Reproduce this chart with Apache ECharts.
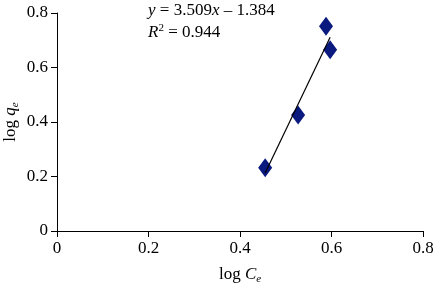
<!DOCTYPE html>
<html>
<head>
<meta charset="utf-8">
<script src="https://cdn.jsdelivr.net/npm/echarts@6/dist/echarts.min.js"></script>
<style>html,body{margin:0;padding:0;background:#fff;}#c{width:434px;height:284px;}</style>
</head>
<body>
<div id="c"></div>
<script>
var logCe = [0.455, 0.527, 0.588, 0.597];
var logQe = [0.232, 0.426, 0.751, 0.665];
var slope = 3.509;
var intercept = -1.384;
var xTicks = [0, 0.2, 0.4, 0.6, 0.8];
var yTicks = [0, 0.2, 0.4, 0.6, 0.8];

var pts = logCe.map(function(x, i){ return [x, logQe[i]]; });
var xMin = Math.min.apply(null, logCe), xMax = Math.max.apply(null, logCe);
var fit = [[xMin, slope * xMin + intercept], [xMax, slope * xMax + intercept]];

var FONT = '"Liberation Serif", "DejaVu Serif", serif';
var FS = 17;
var chart = echarts.init(document.getElementById('c'), null, {renderer: 'canvas'});
chart.setOption({
  animation: false,
  backgroundColor: '#fff',
  grid: {left: 57, right: 11, top: 13, bottom: 53, containLabel: false, outerBoundsMode: 'none'},
  xAxis: {
    type: 'value', min: 0, max: 0.8, interval: 0.2,
    name: '{n|log }{i|C}{sub|e}', nameLocation: 'middle', nameGap: 33,
    nameTextStyle: {
      rich: {
        n: {fontFamily: FONT, fontSize: FS, color: '#000'},
        i: {fontFamily: FONT, fontSize: FS, fontStyle: 'italic', color: '#000'},
        sub: {fontFamily: FONT, fontSize: 11, fontStyle: 'italic', color: '#000', padding: [10, 0, 0, 0]}
      }
    },
    axisLine: {onZero: false, lineStyle: {color: '#000', width: 1}},
    axisTick: {show: true, inside: false, length: 6, lineStyle: {color: '#000'}},
    axisLabel: {fontFamily: FONT, fontSize: FS, color: '#000', margin: 9,
      formatter: function(v){ return xTicks.indexOf(+v.toFixed(1)) >= 0 ? (v === 0 ? '0' : v.toFixed(1)) : ''; }},
    splitLine: {show: false}
  },
  yAxis: {
    type: 'value', min: 0, max: 0.8, interval: 0.2,
    name: '{n|log }{i|q}{sub|e}', nameLocation: 'middle', nameGap: 36, nameRotate: 90,
    nameMoveOverlap: false,
    nameTextStyle: {
      rich: {
        n: {fontFamily: FONT, fontSize: FS, color: '#000'},
        i: {fontFamily: FONT, fontSize: FS, fontStyle: 'italic', color: '#000'},
        sub: {fontFamily: FONT, fontSize: 11, fontStyle: 'italic', color: '#000', padding: [10, 0, 0, 0]}
      }
    },
    axisLine: {show: true, onZero: false, lineStyle: {color: '#000', width: 1}},
    axisTick: {show: true, inside: false, length: 6, lineStyle: {color: '#000'}},
    axisLabel: {fontFamily: FONT, fontSize: FS, color: '#000', margin: 9,
      formatter: function(v){ return yTicks.indexOf(+v.toFixed(1)) >= 0 ? (v === 0 ? '0' : v.toFixed(1)) : ''; }},
    splitLine: {show: false}
  },
  series: [
    {
      type: 'scatter', data: pts, symbol: 'diamond', symbolSize: [14, 19],
      itemStyle: {color: '#0b1a7e', opacity: 1}, z: 2
    },
    {
      type: 'line', data: fit, symbol: 'none', lineStyle: {color: '#000', width: 1.2}, z: 3
    }
  ],
  graphic: [
    {type: 'text', left: 148, top: 2, z: 10, style: {
      text: '{i|y} = 3.509{i|x} \u2013 1.384',
      rich: {i: {fontFamily: FONT, fontSize: FS, fontStyle: 'italic', fill: '#000'}},
      fontFamily: FONT, fontSize: FS, fill: '#000'}},
    {type: 'text', left: 148, top: 23, z: 10, style: {
      text: '{i|R}{sup|2} = 0.944',
      rich: {i: {fontFamily: FONT, fontSize: FS, fontStyle: 'italic', fill: '#000'},
             sup: {fontFamily: FONT, fontSize: 11, fill: '#000', padding: [0, 0, 8, 0]}},
      fontFamily: FONT, fontSize: FS, fill: '#000'}}
  ]
});
</script>
</body>
</html>
